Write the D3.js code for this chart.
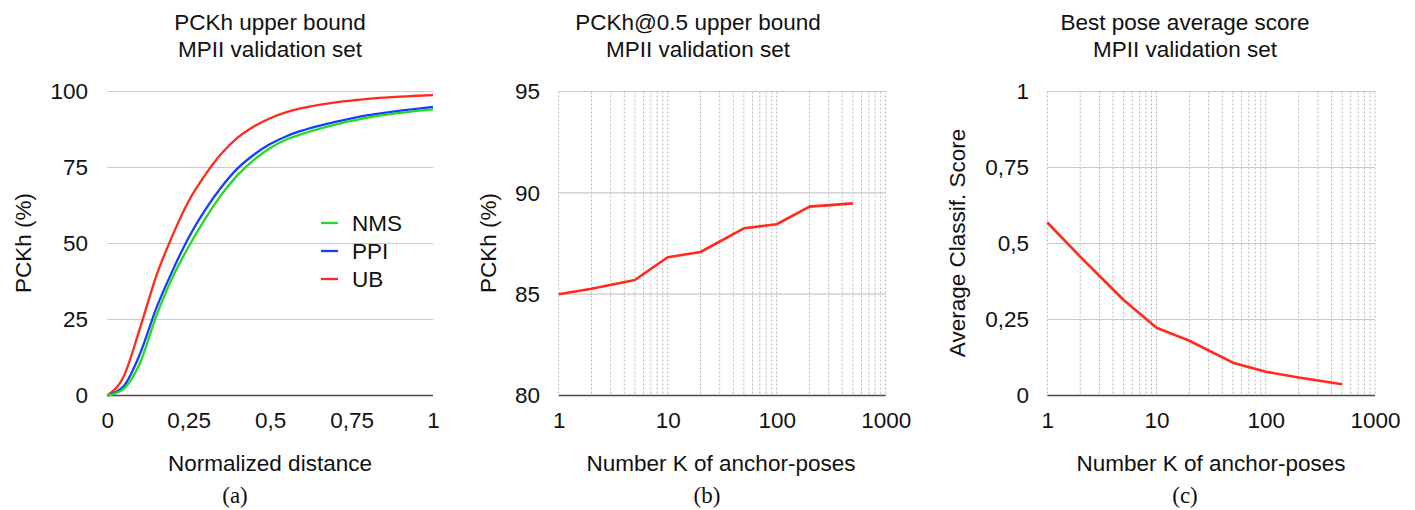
<!DOCTYPE html>
<html>
<head>
<meta charset="utf-8">
<script src="https://cdn.jsdelivr.net/npm/d3@7/dist/d3.min.js"></script>
<style>
  html, body { margin: 0; padding: 0; background: #fff; }
  svg { display: block; }
  text { font-family: "Liberation Sans", Arial, Helvetica, sans-serif; fill: #111; }
</style>
</head>
<body>
<svg id="chart" width="1415" height="510"></svg>
<script>
// ---------- Data ----------
const distances = [0, 0.05, 0.1, 0.15, 0.2, 0.25, 0.3, 0.35, 0.4, 0.45, 0.5, 0.55, 0.6, 0.65, 0.7, 0.75, 0.8, 0.85, 0.9, 0.95, 1.0];
const nmsPCKh = [0, 2.2, 10.6, 26, 38.8, 49, 58, 66, 72.5, 77.5, 81.4, 84.2, 86.1, 87.7, 89.1, 90.3, 91.4, 92.3, 93.0, 93.6, 94.1];
const ppiPCKh = [0, 3.0, 13.6, 28.6, 41, 52, 61, 68.5, 74.7, 79.2, 82.7, 85.3, 87.2, 88.7, 90.0, 91.2, 92.2, 93.0, 93.7, 94.3, 94.9];
const ubPCKh  = [0, 6.2, 22, 39.2, 52.6, 64, 72.5, 79.5, 84.8, 88.5, 91.2, 93.2, 94.6, 95.6, 96.4, 97.0, 97.6, 98.0, 98.3, 98.6, 98.8];
const seriesNames = ["NMS", "PPI", "UB"];

const anchorK = [1, 2, 5, 10, 20, 50, 100, 200, 500];
const pckhAt05 = [85.0, 85.27, 85.7, 86.82, 87.08, 88.25, 88.45, 89.32, 89.48];
const avgScore = [0.569, 0.457, 0.314, 0.223, 0.180, 0.108, 0.078, 0.059, 0.037];

const ticksA_x = [0, 0.25, 0.5, 0.75, 1];
const ticksA_y = [0, 25, 50, 75, 100];
const ticksB_y = [80, 85, 90, 95];
const ticksC_y = [0, 0.25, 0.5, 0.75, 1];
const ticksLog = [1, 10, 100, 1000];

// ---------- Styles ----------
const COL = { NMS: "#1fdc1f", PPI: "#1a3cff", UB: "#ff2a1a" };
const GRID = "#c9c9c9";
const BASE = "#4a4a4a";
const FS = 22.5;

const svg = d3.select("#chart");
const fmtComma = d => String(d).replace(".", ",");

const plotTop = 91.5, plotBot = 395.5;

function panelTitle(cx, lines) {
  lines.forEach((t, i) => svg.append("text")
    .attr("x", cx).attr("y", 30 + i * 27)
    .attr("text-anchor", "middle").attr("font-size", FS).text(t));
}
function yTitle(cx, cy, t) {
  svg.append("text").attr("transform", `translate(${cx},${cy}) rotate(-90)`)
    .attr("text-anchor", "middle").attr("dy", "0.35em").attr("font-size", FS).text(t);
}
function xTitle(cx, t) {
  svg.append("text").attr("x", cx).attr("y", 471).attr("text-anchor", "middle")
    .attr("font-size", FS).text(t);
}
function caption(cx, t) {
  svg.append("text").attr("x", cx).attr("y", 503).attr("text-anchor", "middle")
    .attr("font-size", 23).style("font-family", "'Liberation Serif', 'Times New Roman', serif").text(t);
}
function hGrid(g, x, y, ticks, baseVal) {
  g.append("g").selectAll("line").data(ticks.filter(t => t !== baseVal)).join("line")
    .attr("x1", x.range()[0]).attr("x2", x.range()[1])
    .attr("y1", d => y(d)).attr("y2", d => y(d))
    .attr("stroke", GRID).attr("stroke-width", 1.2);
}
function baseLine(g, x, y, v) {
  g.append("line").attr("x1", x.range()[0]).attr("x2", x.range()[1])
    .attr("y1", y(v)).attr("y2", y(v)).attr("stroke", BASE).attr("stroke-width", 1.6);
}
function yAxisLabels(g, y, ticks, xr, fmt) {
  const ax = d3.axisLeft(y).tickValues(ticks).tickSize(0).tickPadding(0).tickFormat(fmt);
  const ag = g.append("g").attr("transform", `translate(${xr},0)`).call(ax);
  ag.select(".domain").remove();
  ag.selectAll("text").attr("font-size", FS).attr("font-family", "Liberation Sans, Arial, sans-serif").attr("fill", "#111");
}
function xAxisLabels(g, x, ticks, fmt) {
  const ax = d3.axisBottom(x).tickValues(ticks).tickSize(0).tickPadding(0).tickFormat(fmt);
  const ag = g.append("g").attr("transform", `translate(0,${plotBot + 17})`).call(ax);
  ag.select(".domain").remove();
  ag.selectAll("text").attr("font-size", FS).attr("font-family", "Liberation Sans, Arial, sans-serif").attr("fill", "#111");
}
function logGrid(g, x, y) {
  const vals = [];
  for (let e = 1; e <= 100; e *= 10) for (let m = 1; m <= 9; m++) vals.push(m * e);
  vals.push(1000);
  g.append("g").selectAll("line").data(vals).join("line")
    .attr("x1", d => x(d)).attr("x2", d => x(d))
    .attr("y1", plotTop).attr("y2", plotBot)
    .attr("stroke", "#b5b5b5").attr("stroke-width", 1).attr("stroke-dasharray", "2,2");
}

// ---------- Panel (a) ----------
{
  const x = d3.scaleLinear().domain([0, 1]).range([107.3, 433]);
  const y = d3.scaleLinear().domain([0, 100]).range([plotBot, plotTop]);
  const g = svg.append("g");
  hGrid(g, x, y, ticksA_y, 0);
  baseLine(g, x, y, 0);
  yAxisLabels(g, y, ticksA_y, 88, d => d);
  xAxisLabels(g, x, ticksA_x, fmtComma);
  const line = d3.line().x((d, i) => x(distances[i])).y(d => y(d)).curve(d3.curveMonotoneX);
  const data = { NMS: nmsPCKh, PPI: ppiPCKh, UB: ubPCKh };
  ["UB", "PPI", "NMS"].forEach(k => {
    g.append("path").attr("d", line(data[k])).attr("fill", "none")
      .attr("stroke", COL[k]).attr("stroke-width", 2.3).attr("stroke-linejoin", "round");
  });
  const lg = g.append("g");
  seriesNames.forEach((n, i) => {
    const yy = 223 + i * 28;
    lg.append("line").attr("x1", 321).attr("x2", 338).attr("y1", yy).attr("y2", yy)
      .attr("stroke", COL[n]).attr("stroke-width", 2.3);
    lg.append("text").attr("x", 352).attr("y", yy).attr("dy", "0.36em")
      .attr("font-size", FS).text(n);
  });
  panelTitle(270, ["PCKh upper bound", "MPII validation set"]);
  yTitle(23, 243, "PCKh (%)");
  xTitle(270, "Normalized distance");
  caption(235, "(a)");
}

// ---------- Panel (b) ----------
{
  const x = d3.scaleLog().domain([1, 1000]).range([558.7, 885.7]);
  const y = d3.scaleLinear().domain([80, 95]).range([plotBot, plotTop]);
  const g = svg.append("g");
  logGrid(g, x, y);
  hGrid(g, x, y, ticksB_y, 80);
  baseLine(g, x, y, 80);
  yAxisLabels(g, y, ticksB_y, 540, d => d);
  xAxisLabels(g, x, ticksLog, d => d);
  const line = d3.line().x((d, i) => x(anchorK[i])).y(d => y(d));
  g.append("path").attr("d", line(pckhAt05)).attr("fill", "none")
    .attr("stroke", COL.UB).attr("stroke-width", 2.6).attr("stroke-linejoin", "round");
  panelTitle(698, ["PCKh@0.5 upper bound", "MPII validation set"]);
  yTitle(488, 243, "PCKh (%)");
  xTitle(721, "Number K of anchor-poses");
  caption(707, "(b)");
}

// ---------- Panel (c) ----------
{
  const x = d3.scaleLog().domain([1, 1000]).range([1047.3, 1375]);
  const y = d3.scaleLinear().domain([0, 1]).range([plotBot, plotTop]);
  const g = svg.append("g");
  logGrid(g, x, y);
  hGrid(g, x, y, ticksC_y, 0);
  baseLine(g, x, y, 0);
  yAxisLabels(g, y, ticksC_y, 1029, fmtComma);
  xAxisLabels(g, x, ticksLog, d => d);
  const line = d3.line().x((d, i) => x(anchorK[i])).y(d => y(d));
  g.append("path").attr("d", line(avgScore)).attr("fill", "none")
    .attr("stroke", COL.UB).attr("stroke-width", 2.6).attr("stroke-linejoin", "round");
  panelTitle(1185, ["Best pose average score", "MPII validation set"]);
  yTitle(957, 243, "Average Classif. Score");
  xTitle(1211, "Number K of anchor-poses");
  caption(1185, "(c)");
}
</script>
</body>
</html>
